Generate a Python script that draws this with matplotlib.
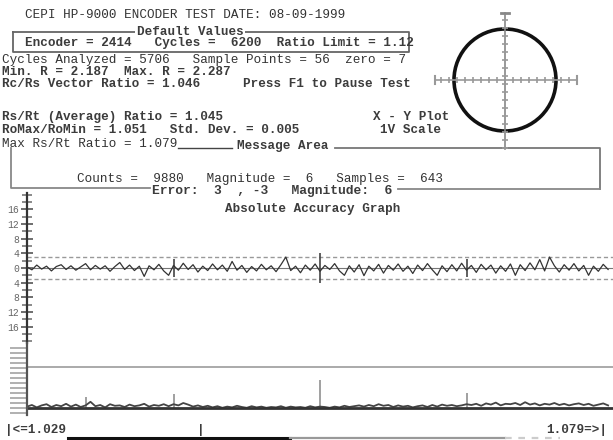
import numpy as np
import matplotlib.pyplot as plt
from matplotlib.patches import Circle

# Absolute accuracy error trace (counts), one value every 3 degrees
err_deg = np.arange(0, 360, 3)
err_vals = [0.3, -0.5, 0.8, -0.3, 0.5, -0.8, 0.4, 0.9, -0.4, 0.6,
            -0.6, 0.3, 1.2, -0.5, 0.7, -0.3, 0.6, -0.9, 0.4, 1.5,
            -0.4, 0.8, -0.7, 0.5, -2.3, 0.6, -0.5, 1.0, -0.8, -2.0,
            0.7, -0.6, 1.3, -0.4, 0.9, -1.1, 0.5, -0.7, 1.1, -0.5,
            0.8, -0.9, 1.8, -0.6, 0.7, -1.2, 0.4, -0.8, 1.0, -0.5,
            0.6, -1.0, 0.9, 3.0, -0.7, 0.5, -1.3, 0.8, -0.6, 1.1,
            -0.9, 0.7, -0.4, 1.2, -0.8, -2.0, 0.6, -1.1, 0.9, -2.1,
            0.5, -0.8, 1.0, -1.4, 0.7, -0.6, 1.1, -0.9, 0.5, -1.5,
            0.8, -0.7, 1.2, -0.5, -2.0, 0.6, -1.0, 0.9, -0.8, 1.3,
            -0.6, 0.7, -1.2, 1.0, -0.5, 0.8, -1.4, 0.6, -0.9, 1.1,
            -2.0, 0.9, -0.7, 1.4, -0.5, 2.3, -0.8, 3.0, 0.6, -1.1,
            0.9, -0.6, 1.2, -0.8, 0.7, -2.0, 0.5, -0.9, 1.0, -0.4]
err_limit = 3
quarter_marks = [90, 180, 270]
quarter_len = [2.5, 4, 2.5]

# Rs/Rt ratio trace (lower graph)
ratio_vals = [0.6, 1.0, 0.4, 0.9, 1.2, 0.5, 1.0, 0.7, 1.3, 0.6,
              1.1, 0.5, 0.9, 1.8, 0.7, 1.0, 0.4, 1.2, 0.8, 0.9,
              0.5, 1.1, 0.7, 0.9, 1.3, 0.6, 1.0, 0.8, 1.2, 0.7,
              1.2, 0.9, 1.5, 1.1, 0.6, 0.9, 0.5, 0.8, 0.4, 0.7,
              0.3, 0.6, 0.4, 0.8, 0.5, 0.3, 0.7, 0.4, 0.6, 0.3,
              0.5, 0.4, 0.7, 0.3, 0.6, 0.4, 0.5, 0.3, 0.7, 0.4,
              0.6, 0.5, 0.3, 0.6, 0.4, 0.8, 0.5, 0.7, 0.9, 0.6,
              1.0, 0.7, 1.2, 0.8, 1.0, 0.5, 0.9, 0.6, 0.8, 0.4,
              0.7, 0.9, 0.5, 1.0, 0.6, 1.1, 0.8, 1.0, 0.7, 0.9,
              1.2, 1.0, 1.3, 0.8, 1.4, 1.1, 1.6, 0.9, 1.3, 1.2,
              1.5, 1.0, 1.7, 1.1, 1.4, 0.9, 1.3, 1.1, 1.5, 1.0,
              1.3, 0.9, 1.2, 1.4, 1.0, 1.3, 0.8, 1.1, 1.4, 0.9]
spike_deg = [36, 90, 180, 270]
spike_vals = [3.0, 3.8, 7.2, 4.0]
ratio_ref = 10.5

FONT = "Liberation Mono"
TC = "#333333"
TB = "#3c3c3c"

fig = plt.figure(figsize=(6.13, 4.40), dpi=100)
W, H = 613, 440

# screen layer in pixel coordinates
scr = fig.add_axes([0, 0, 1, 1])
scr.set_xlim(0, W)
scr.set_ylim(H, 0)
scr.axis("off")


def txt(x, y, s, size=9.1, weight="normal", **kw):
    scr.text(x, y, s, fontsize=size, family=FONT, weight=weight,
             color=TB if weight == "bold" else TC,
             va="center", ha=kw.pop("ha", "left"), **kw)


txt(25, 15, "CEPI HP-9000 ENCODER TEST DATE: 08-09-1999")

# Default values box
scr.plot([13, 13, 409, 409, 13], [32, 52, 52, 32, 32], color="#666", lw=1.3)
scr.text(190, 32, "Default Values", fontsize=9.1, family=FONT, weight="bold",
         color=TB, ha="center", va="center",
         bbox=dict(fc="white", ec="none", pad=1))
txt(25, 43, "Encoder = 2414   Cycles =  6200  Ratio Limit = 1.12", weight="bold")
txt(2, 60, "Cycles Analyzed = 5706   Sample Points = 56  zero = 7")
txt(2, 72, "Min. R = 2.187  Max. R = 2.287", weight="bold")
txt(2, 84, "Rc/Rs Vector Ratio = 1.046", weight="bold")
txt(243, 84, "Press F1 to Pause Test", weight="bold")
txt(2, 117, "Rs/Rt (Average) Ratio = 1.045", weight="bold")
txt(373, 117, "X - Y Plot", weight="bold")
txt(2, 130, "RoMax/RoMin = 1.051   Std. Dev. = 0.005", weight="bold")
txt(380, 130, "1V Scale", weight="bold")
txt(2, 144, "Max Rs/Rt Ratio = 1.079")

# Message area box
scr.plot([178, 232], [148, 148], color="#444", lw=1)
txt(237, 146, "Message Area", weight="bold")
scr.plot([335, 600, 600], [148, 148, 189], color="#777", lw=1.3)
scr.plot([11, 11, 150], [148, 188, 188], color="#888", lw=1.3)
scr.plot([398, 600], [189, 189], color="#888", lw=1.3)
txt(77, 179, "Counts =  9880   Magnitude =  6   Samples =  643")
txt(152, 191, "Error:  3  , -3   Magnitude:  6", size=9.4, weight="bold")
txt(225, 209, "Absolute Accuracy Graph", weight="bold")

# X-Y plot: circle with crosshair
cx, cy, r = 505, 80, 51
scr.plot([cx, cx], [13, 149], color="#888", lw=1.2)
scr.plot([cx - 4, cx + 4], [13, 13], color="#888", lw=2)
scr.plot([435, 577], [cy, cy], color="#999", lw=1.2)
scr.plot([435, 435], [cy - 4, cy + 4], color="#999", lw=1.5)
scr.plot([577, 577], [cy - 4, cy + 4], color="#999", lw=1.5)
ty = np.arange(20, 149, 8)
scr.plot([cx] * len(ty), ty, ls="none", marker="_", ms=5, color="#999", mew=1.2)
tx = np.arange(441, 577, 8)
scr.plot(tx, [cy] * len(tx), ls="none", marker="|", ms=5, color="#999", mew=1.2)
scr.add_patch(Circle((cx, cy), r, fill=False, ec="#111", lw=2.6))

# upper graph: absolute accuracy error
x0, top, mid, bot = 27, 193, 343, 415
ax = fig.add_axes([x0 / W, (H - mid) / H, (W - x0) / W, (mid - top) / H])
ax.set_xlim(0, 360)
ax.set_ylim(-20.5, 20.5)
for s in ["top", "right", "bottom"]:
    ax.spines[s].set_visible(False)
ax.spines["left"].set_linewidth(1.6)
ax.spines["left"].set_color("#333")
ax.patch.set_alpha(0)
ax.set_xticks([])
ax.set_yticks(np.arange(-16, 17, 4))
ax.set_yticklabels([str(abs(v)) for v in range(-16, 17, 4)],
                   family=FONT, fontsize=7, color="#666")
ax.set_yticks(np.arange(-20, 21, 2), minor=True)
ax.tick_params(axis="y", which="major", direction="inout", length=9, width=1.2,
               color="#555", pad=1)
ax.tick_params(axis="y", which="minor", direction="inout", length=7, width=1.2,
               color="#777")
ax.axhline(err_limit, color="#999", lw=1, ls=(0, (3, 2)))
ax.axhline(-err_limit, color="#999", lw=1, ls=(0, (3, 2)))
ax.axhline(0, color="#777", lw=0.8)
ax.vlines(quarter_marks, [-v for v in quarter_len], quarter_len, color="#444", lw=1.2)
ax.plot(err_deg, err_vals, color="#333", lw=0.9)

# lower graph: ratio trace
ax2 = fig.add_axes([x0 / W, (H - bot) / H, (W - x0) / W, (bot - mid) / H])
ax2.set_xlim(0, 360)
ax2.set_ylim(-1.5, 16.5)
for s in ["top", "right", "bottom"]:
    ax2.spines[s].set_visible(False)
ax2.spines["left"].set_linewidth(1.6)
ax2.spines["left"].set_color("#555")
ax2.patch.set_alpha(0)
ax2.set_xticks([])
ax2.set_yticks(np.arange(-1, 16.5, 1.25))
ax2.set_yticklabels([])
ax2.tick_params(axis="y", direction="out", length=12, width=1.3, color="#aaa")
ax2.axhline(ratio_ref, color="#aaa", lw=1.4)
ax2.vlines(spike_deg, 0, spike_vals, color="#999", lw=1.3)
ax2.plot(err_deg, ratio_vals, color="#444", lw=1.3)
ax2.axhline(0.2, color="#333", lw=2.0)

# bottom scale
txt(5, 430, "|<=1.029", weight="bold")
txt(197, 430, "|", weight="bold")
txt(607, 430, "1.079=>|", weight="bold", ha="right")
scr.plot([68, 290], [438, 438], color="#111", lw=2.2)
scr.plot([290, 505], [438, 438], color="#999", lw=1.6)
scr.plot([505, 560], [438, 438], color="#ccc", lw=1.6, ls=(0, (3, 3)))

fig.savefig("out.png", dpi=100)
